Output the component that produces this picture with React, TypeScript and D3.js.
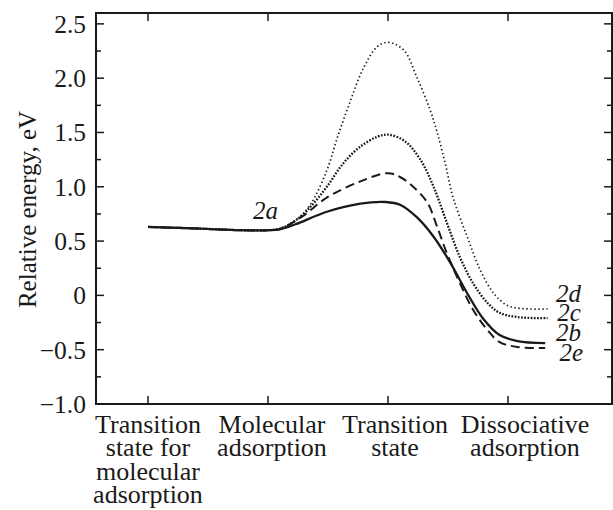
import React from "react";
import * as d3 from "d3";

// Stage positions (category index) and labels
const stageLabels: string[][] = [
  ["Transition", "state for", "molecular", "adsorption"],
  ["Molecular", "adsorption"],
  ["Transition", "state"],
  ["Dissociative", "adsorption"],
];
const stagePos = [0, 1, 2, 3];

const yMajorTicks = [-1.0, -0.5, 0, 0.5, 1.0, 1.5, 2.0, 2.5];
const yTickLabels = ["\u22121.0", "\u22120.5", "0", "0.5", "1.0", "1.5", "2.0", "2.5"];
const yMinorTicks = [-0.75, -0.25, 0.25, 0.75, 1.25, 1.75, 2.25];

// Curve 2b (solid)
const x2b = [0, 0.43, 0.77, 1.0, 1.1, 1.23, 1.49, 1.77, 1.98, 2.1, 2.24, 2.38, 2.52, 2.66, 2.79, 2.93, 3.08, 3.31];
const y2b = [0.63, 0.615, 0.6, 0.6, 0.608, 0.655, 0.77, 0.845, 0.86, 0.835, 0.72, 0.54, 0.3, 0.02, -0.21, -0.365, -0.42, -0.44];

// Curve 2e (dashed)
const x2e = [0, 0.43, 0.77, 1.0, 1.1, 1.29, 1.49, 1.77, 2.0, 2.1, 2.21, 2.33, 2.41, 2.49, 2.6, 2.71, 2.83, 2.93, 3.08, 3.31];
const y2e = [0.63, 0.615, 0.6, 0.6, 0.612, 0.73, 0.9, 1.05, 1.125, 1.09, 1.0, 0.85, 0.63, 0.39, 0.11, -0.134, -0.32, -0.43, -0.475, -0.485];

// Curve 2c (dotted)
const x2c = [0, 0.43, 0.77, 1.0, 1.1, 1.23, 1.35, 1.49, 1.63, 1.77, 1.91, 2.0, 2.14, 2.27, 2.38, 2.49, 2.6, 2.71, 2.83, 2.93, 3.08, 3.33];
const y2c = [0.63, 0.615, 0.6, 0.6, 0.614, 0.69, 0.81, 1.0, 1.22, 1.37, 1.46, 1.48, 1.42, 1.25, 1.0, 0.67, 0.35, 0.11, -0.07, -0.16, -0.2, -0.21];

// Curve 2d (fine dotted)
const x2d = [0, 0.43, 0.77, 1.0, 1.1, 1.23, 1.35, 1.49, 1.58, 1.68, 1.79, 1.91, 2.0, 2.13, 2.24, 2.35, 2.41, 2.48, 2.54, 2.66, 2.77, 2.88, 2.99, 3.1, 3.33];
const y2d = [0.63, 0.615, 0.6, 0.6, 0.614, 0.69, 0.83, 1.15, 1.46, 1.77, 2.08, 2.29, 2.33, 2.26, 2.01, 1.71, 1.5, 1.2, 0.91, 0.54, 0.23, 0.02, -0.09, -0.12, -0.125];

const curveLabels = ["2a", "2d", "2c", "2b", "2e"];

const W = 613;
const H = 510;
const left = 96;
const right = 612;
const top = 13;
const bottom = 404;
// horizontal nudges (px) of the category text blocks relative to their ticks
const labelNudge = [0, 4, 7, 17];

export default function App() {
  const x = d3.scaleLinear().domain([-52 / 120, 464 / 120]).range([left, right]);
  const y = d3.scaleLinear().domain([-1, 2.6]).range([bottom, top]);
  const line = d3
    .line<[number, number]>()
    .x((d) => x(d[0]))
    .y((d) => y(d[1]))
    .curve(d3.curveCatmullRom.alpha(0.5));
  const zip = (a: number[], b: number[]) => a.map((v, i) => [v, b[i]] as [number, number]);

  const font = "'Liberation Serif', 'Times New Roman', serif";
  const ink = "#1a1a1a";

  const series = [
    { d: zip(x2d, y2d), dash: "1.4 2.6", w: 1.7 },
    { d: zip(x2c, y2c), dash: "1.7 1.5", w: 2.3 },
    { d: zip(x2e, y2e), dash: "9 5", w: 2 },
    { d: zip(x2b, y2b), dash: null, w: 2.3 },
  ];

  // label anchor positions (data coordinates)
  const labelPos: [number, number][] = [
    [0.875, 0.7],
    [3.4, -0.06],
    [3.41, -0.24],
    [3.4, -0.42],
    [3.43, -0.6],
  ];

  return (
    <svg
      width={W}
      height={H}
      style={{ position: "absolute", left: 0, top: 0, background: "#fff" }}
      fontFamily={font}
    >
      <rect x={0} y={0} width={W} height={H} fill="#fff" />
      {/* frame */}
      <rect
        x={left}
        y={top}
        width={right - left}
        height={bottom - top}
        fill="none"
        stroke={ink}
        strokeWidth={2}
      />
      {/* y ticks left and right */}
      {yMajorTicks.map((t) => (
        <g key={"ym" + t}>
          <line x1={left} x2={left + 8} y1={y(t)} y2={y(t)} stroke={ink} strokeWidth={1.5} />
          <line x1={right} x2={right - 8} y1={y(t)} y2={y(t)} stroke={ink} strokeWidth={1.5} />
        </g>
      ))}
      {yMinorTicks.map((t) => (
        <g key={"yn" + t}>
          <line x1={left} x2={left + 5} y1={y(t)} y2={y(t)} stroke={ink} strokeWidth={1.5} />
          <line x1={right} x2={right - 5} y1={y(t)} y2={y(t)} stroke={ink} strokeWidth={1.5} />
        </g>
      ))}
      {yMajorTicks.map((t, i) => (
        <text
          key={"yl" + t}
          x={86}
          y={y(t)}
          dy="0.35em"
          textAnchor="end"
          fontSize={25.5}
          fill={ink}
        >
          {yTickLabels[i]}
        </text>
      ))}
      {/* x ticks bottom and top */}
      {stagePos.map((p) => (
        <g key={"xt" + p}>
          <line x1={x(p)} x2={x(p)} y1={bottom} y2={bottom - 8} stroke={ink} strokeWidth={1.5} />
          <line x1={x(p)} x2={x(p)} y1={top} y2={top + 8} stroke={ink} strokeWidth={1.5} />
        </g>
      ))}
      {stageLabels.map((lines, i) => (
        <text key={"xl" + i} textAnchor="middle" fontSize={26} fill={ink}>
          {lines.map((l, j) => (
            <tspan key={j} x={x(stagePos[i]) + labelNudge[i]} y={433 + j * 23.4}>
              {l}
            </tspan>
          ))}
        </text>
      ))}
      {/* axis title */}
      <text
        transform={`translate(36, ${(top + bottom) / 2 + 1}) rotate(-90)`}
        textAnchor="middle"
        fontSize={25}
        fill={ink}
      >
        Relative energy, eV
      </text>
      {/* curves */}
      {series.map((s, i) => (
        <path
          key={"s" + i}
          d={line(s.d) || ""}
          fill="none"
          stroke={ink}
          strokeWidth={s.w}
          strokeDasharray={s.dash || undefined}
        />
      ))}
      {/* curve labels */}
      {curveLabels.map((c, i) => (
        <text
          key={c}
          x={x(labelPos[i][0])}
          y={y(labelPos[i][1])}
          fontSize={25}
          fontStyle="italic"
          fill={ink}
        >
          {c}
        </text>
      ))}
    </svg>
  );
}
